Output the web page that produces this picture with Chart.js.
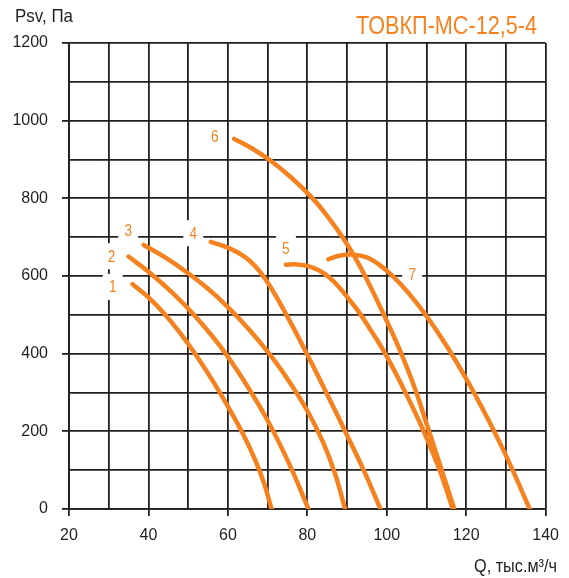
<!DOCTYPE html>
<html>
<head>
<meta charset="utf-8">
<script src="https://cdn.jsdelivr.net/npm/chart.js@4/dist/chart.umd.min.js"></script>
<style>
  html, body { margin: 0; padding: 0; background: #fff; }
  #wrap { width: 569px; height: 578px; }
</style>
</head>
<body>
<div id="wrap"><canvas id="fanChart"></canvas></div>
<script>
// Q, thousand m3/h  ->  Psv, Pa  for each impeller setting
const q1 = [36, 40, 44, 48, 52, 56, 60, 64, 67, 69.2, 71];
const psv1 = [579, 545, 503, 453, 396, 333, 264, 189, 123, 63, 0];

const q2 = [35, 40, 46, 52, 58, 64, 70, 75.5, 80.3];
const psv2 = [650, 611, 557, 494, 420, 331, 228, 115, 0];

const q3 = [38.8, 44, 50, 55, 60, 65, 70, 75, 80, 84, 87, 89.5];
const psv3 = [680, 649, 607, 567, 520, 466, 405, 335, 253, 171, 90, 0];

const q4 = [55.7, 60, 64, 67, 69.5, 72, 76, 80, 85, 90, 94.5, 98.4];
const psv4 = [688, 673, 651, 624, 591, 550, 476, 397, 295, 190, 93, 0];

const q5 = [74.6, 77, 80, 83, 85.7, 88, 90.5, 93, 96, 99.6, 104.7, 109.3, 113.5, 116.6];
const psv5 = [629, 630, 626, 614, 595, 571, 540, 507, 460, 400, 300, 200, 95, 0];

const q6 = [61.6, 66, 70.6, 76, 81.5, 85.5, 89, 92, 95, 99, 103, 107, 110, 113, 117];
const psv6 = [953, 929, 898, 853, 798, 748, 698, 648, 591, 506, 416, 313, 220, 126, 0];

const q7 = [85.3, 88, 91.6, 95, 98, 101.7, 105.5, 110, 115, 120.3, 125.5, 130.4, 136];
const psv7 = [643, 652, 655, 648, 630, 598, 556, 497, 421, 330, 231, 129, 0];

// curve numbers and where they sit (in axis units)
const tagNames = ['1', '2', '3', '4', '5', '6', '7'];
const tagQ = [31, 30.7, 34.9, 51.3, 74.6, 56.7, 106.4];
const tagP = [572, 651, 718, 710, 671, 959, 603];

const qLabels = [20, 40, 60, 80, 100, 120, 140];
const psvLabels = [0, 200, 400, 600, 800, 1000, 1200];

const chartTitle = 'ТОВКП-МС-12,5-4';
const yTitle = 'Psv, Па';
const xTitle = 'Q, тыс.м³/ч';

const ORANGE = '#F5821F';
const INK = '#231F20';
const SANS = '"Liberation Sans", Arial, sans-serif';

const curves = [[q1, psv1], [q2, psv2], [q3, psv3], [q4, psv4], [q5, psv5], [q6, psv6], [q7, psv7]];

const datasets = curves.map(([q, p], i) => ({
    label: tagNames[i],
    data: q.map((x, k) => ({ x, y: p[k] })),
    borderColor: ORANGE,
    borderWidth: 4.5,
    borderCapStyle: 'round',
    borderJoinStyle: 'round',
    tension: 0.4,
    pointRadius: 0,
    fill: false,
}));

// text squeezed to a given width, like a condensed face
function narrowText(ctx, text, x, y, width, align) {
    const w = ctx.measureText(text).width;
    const sx = width / w;
    ctx.save();
    ctx.translate(align === 'right' ? x - width : x, y);
    ctx.scale(sx, 1);
    ctx.textAlign = 'left';
    ctx.fillText(text, 0, 0);
    ctx.restore();
}

const curveTags = {
    id: 'curveTags',
    beforeDatasetsDraw(chart) {
        const { ctx, scales: { x, y } } = chart;
        ctx.save();
        ctx.font = '16px ' + SANS;
        ctx.textAlign = 'center';
        ctx.textBaseline = 'middle';
        tagNames.forEach((t, i) => {
            const px = x.getPixelForValue(tagQ[i]);
            const py = y.getPixelForValue(tagP[i]);
            ctx.fillStyle = '#fff';
            ctx.fillRect(px - 10, py - 13, 20, 26);
            ctx.fillStyle = ORANGE;
            ctx.save();
            ctx.translate(px, py + 1);
            ctx.scale(0.85, 1);
            ctx.fillText(t, 0, 0);
            ctx.restore();
        });
        ctx.restore();
    }
};

const captions = {
    id: 'captions',
    afterDraw(chart) {
        const { ctx } = chart;
        ctx.save();
        ctx.textBaseline = 'alphabetic';

        ctx.fillStyle = ORANGE;
        ctx.font = '26px ' + SANS;
        narrowText(ctx, chartTitle, 537, 34, 181, 'right');

        ctx.fillStyle = INK;
        ctx.font = '19px ' + SANS;
        narrowText(ctx, yTitle, 15, 22, 58, 'left');
        narrowText(ctx, xTitle, 557, 572, 83, 'right');
        ctx.restore();
    }
};

const majorTick = (step) => (c) => (c.tick && c.tick.value % step === 0 ? INK : 'rgba(0,0,0,0)');

new Chart(document.getElementById('fanChart'), {
    type: 'line',
    data: { datasets },
    plugins: [curveTags, captions],
    options: {
        responsive: true,
        maintainAspectRatio: false,
        animation: false,
        layout: { padding: { left: 0, top: 43, right: 23, bottom: 0 } },
        plugins: {
            legend: { display: false },
            tooltip: { enabled: false },
        },
        scales: {
            x: {
                type: 'linear',
                min: 20,
                max: 140,
                afterFit: (s) => { s.height = 69; },
                border: { display: true, color: INK, width: 1.8 },
                grid: {
                    color: INK,
                    lineWidth: 1.8,
                    tickLength: 7,
                    tickColor: majorTick(20),
                    tickWidth: 1.8,
                },
                ticks: {
                    stepSize: 10,
                    autoSkip: false,
                    maxRotation: 0,
                    padding: 10,
                    color: INK,
                    font: { family: SANS, size: 16 },
                    callback: (v) => (qLabels.includes(v) ? String(v) : ''),
                },
            },
            y: {
                min: 0,
                max: 1200,
                afterFit: (s) => { s.width = 69; },
                border: { display: true, color: INK, width: 1.8 },
                grid: {
                    color: INK,
                    lineWidth: 1.8,
                    tickLength: 7,
                    tickColor: majorTick(200),
                    tickWidth: 1.8,
                },
                ticks: {
                    stepSize: 100,
                    autoSkip: false,
                    padding: 14,
                    color: INK,
                    font: { family: SANS, size: 16 },
                    callback: (v) => (psvLabels.includes(v) ? String(v) : ''),
                },
            },
        },
    },
});
</script>
</body>
</html>
